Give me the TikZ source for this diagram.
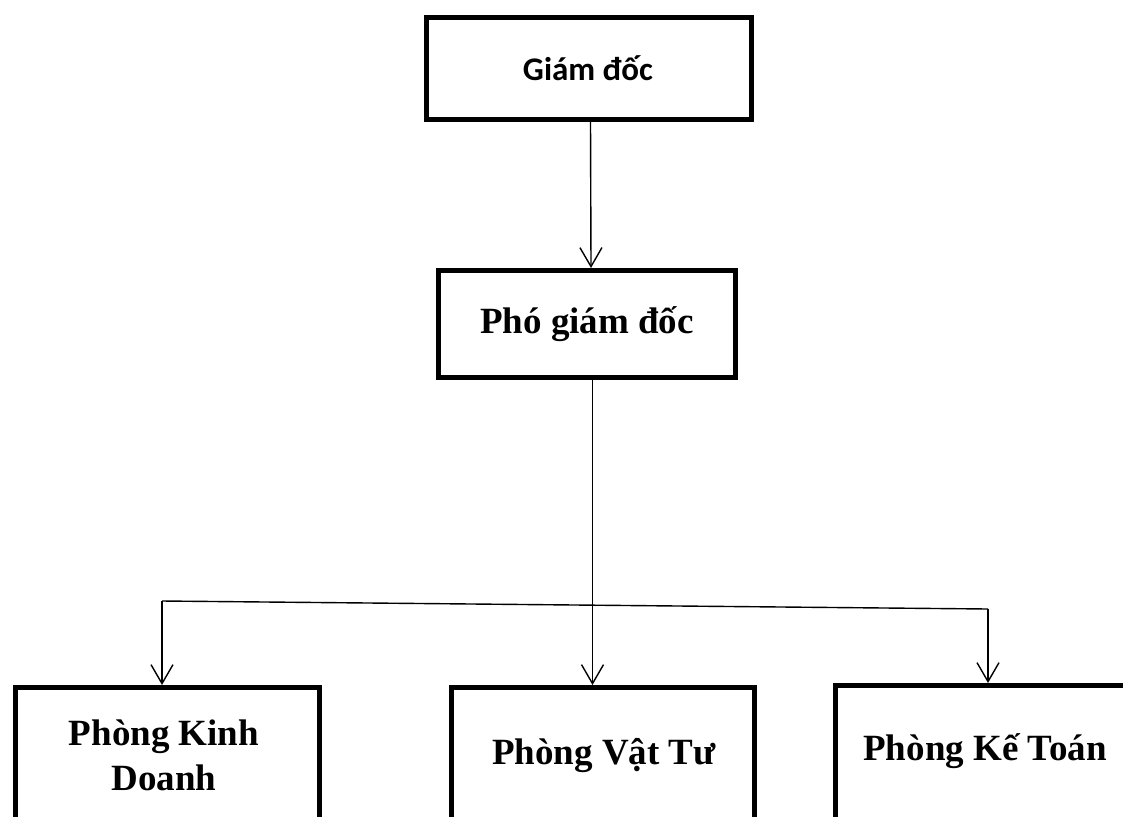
\documentclass[tikz,border=0pt]{standalone}
\usepackage{fontspec}
\setmainfont{Liberation Serif}
\newfontfamily\boxsans{Carlito}
\usetikzlibrary{arrows.meta}
\begin{document}
\begin{tikzpicture}[x=1pt,y=-1pt,
  boxnode/.style={draw=black,line width=5pt,rectangle,inner sep=0pt,anchor=north west},
  conn/.style={line width=1.4pt,draw=black},
  arr/.style={conn,-{Straight Barb[length=19pt,width=22pt,line width=1.4pt]}},
  serifbig/.style={font=\bfseries\fontsize{37}{45}\selectfont,align=center,anchor=base},
]
\useasboundingbox (0,0) rectangle (1123,816);
\begin{scope}
\clip (0,0) rectangle (1123,816);
% boxes
\node[boxnode,minimum width=325pt,minimum height=102pt] (gd) at (424,15) {};
\node[boxnode,minimum width=297pt,minimum height=107pt] (pgd) at (436,268) {};
\node[boxnode,minimum width=304pt,minimum height=160pt] (kd) at (13,685) {};
\node[boxnode,minimum width=303pt,minimum height=160pt] (vt) at (449,685) {};
\node[boxnode,minimum width=320pt,minimum height=160pt] (kt) at (833,683) {};
% texts
\node[font=\boxsans\bfseries\fontsize{33}{38}\selectfont] (gdt) at (588,68) {Giám đốc};
\node[font=\bfseries\fontsize{37}{45}\selectfont] (pgdt) at (pgd.center) {Phó giám đốc};
\node[serifbig] (kdt1) at (164,745) {Phòng Kinh};
\node[serifbig] (kdt2) at (164,790) {Doanh};
\node[serifbig] (vtt) at (604,764) {Phòng Vật Tư};
\node[serifbig] (ktt) at (985,760) {Phòng Kế Toán};
% connectors
\coordinate (hl) at (162,601);
\coordinate (hr) at (988,609);
\draw[arr] ([xshift=1.5pt]gd.south) -- ([xshift=4pt]pgd.north);
\draw[conn] (hl) -- (hr);
\draw[arr] ([xshift=5.5pt]pgd.south) -- ([xshift=-10.5pt]vt.north);
\draw[arr] (hl) -- (hl |- kd.north);
\draw[arr] (hr) -- (hr |- kt.north);
\end{scope}
\end{tikzpicture}
\end{document}
